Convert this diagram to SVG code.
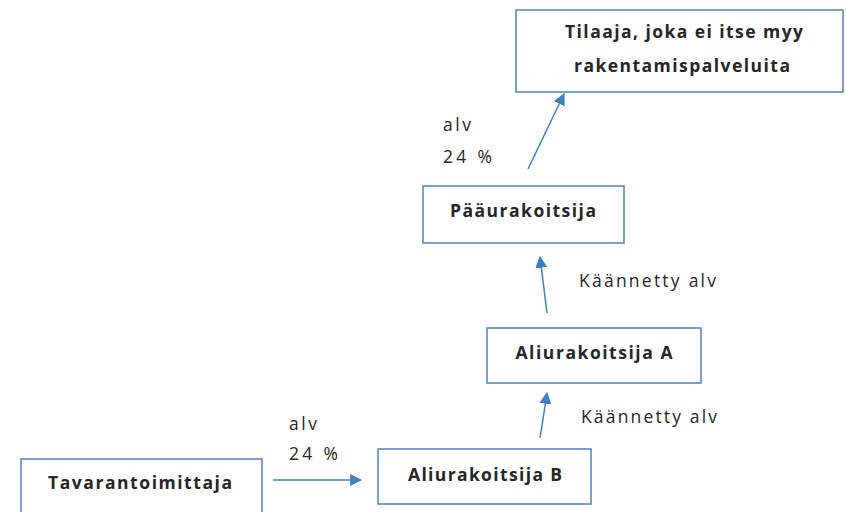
<svg xmlns="http://www.w3.org/2000/svg" width="846" height="512" viewBox="0 0 846 512">
<style>
.box{fill:#fff;stroke:#4f81bd;stroke-width:1.5}
.t{font-family:"Open Sans","Liberation Sans",Arial,sans-serif;font-size:17.5px;fill:#262626}
.b{font-weight:bold;text-anchor:middle}
.c{stroke:#3f7fc0;stroke-width:1.5;fill:none;marker-end:url(#ah)}
</style>
<defs>
<marker id="ah" viewBox="0 0 10 10" refX="9" refY="5" markerWidth="12" markerHeight="12" orient="auto" markerUnits="userSpaceOnUse">
<path d="M0,0 L10,5 L0,10 Z" fill="#3f7fc0"/>
</marker>
</defs>
<g id="connectors">
<line class="c" x1="528" y1="169" x2="564" y2="94"/>
<line class="c" x1="547" y1="313" x2="540" y2="257"/>
<line class="c" x1="540" y1="438" x2="547" y2="393"/>
<line class="c" x1="273" y1="480" x2="361" y2="480"/>
</g>
<g id="labels">
<text class="t" x="443" y="131" textLength="28" lengthAdjust="spacing">alv</text>
<text class="t" x="443" y="163" textLength="49" lengthAdjust="spacing">24 %</text>
<text class="t" x="579" y="287" textLength="137" lengthAdjust="spacing">Käännetty alv</text>
<text class="t" x="581" y="423" textLength="136" lengthAdjust="spacing">Käännetty alv</text>
<text class="t" x="289" y="430" textLength="28" lengthAdjust="spacing">alv</text>
<text class="t" x="289" y="460" textLength="49" lengthAdjust="spacing">24 %</text>
</g>
<g id="tilaaja">
<rect class="box" x="516" y="10" width="327" height="82"/>
<text class="t b" x="684" y="38" textLength="238" lengthAdjust="spacing">Tilaaja, joka ei itse myy</text>
<text class="t b" x="682" y="72" textLength="216" lengthAdjust="spacing">rakentamispalveluita</text>
</g>
<g id="paaurakoitsija">
<rect class="box" x="423" y="186" width="201" height="57"/>
<text class="t b" x="523" y="217" textLength="146" lengthAdjust="spacing">Pääurakoitsija</text>
</g>
<g id="aliurakoitsija-a">
<rect class="box" x="487" y="328" width="214" height="55"/>
<text class="t b" x="594" y="359" textLength="157" lengthAdjust="spacing">Aliurakoitsija A</text>
</g>
<g id="aliurakoitsija-b">
<rect class="box" x="378" y="449" width="213" height="55"/>
<text class="t b" x="485" y="481" textLength="154" lengthAdjust="spacing">Aliurakoitsija B</text>
</g>
<g id="tavarantoimittaja">
<rect class="box" x="21" y="459" width="241" height="60"/>
<text class="t b" x="140" y="489" textLength="184" lengthAdjust="spacing">Tavarantoimittaja</text>
</g>
</svg>
